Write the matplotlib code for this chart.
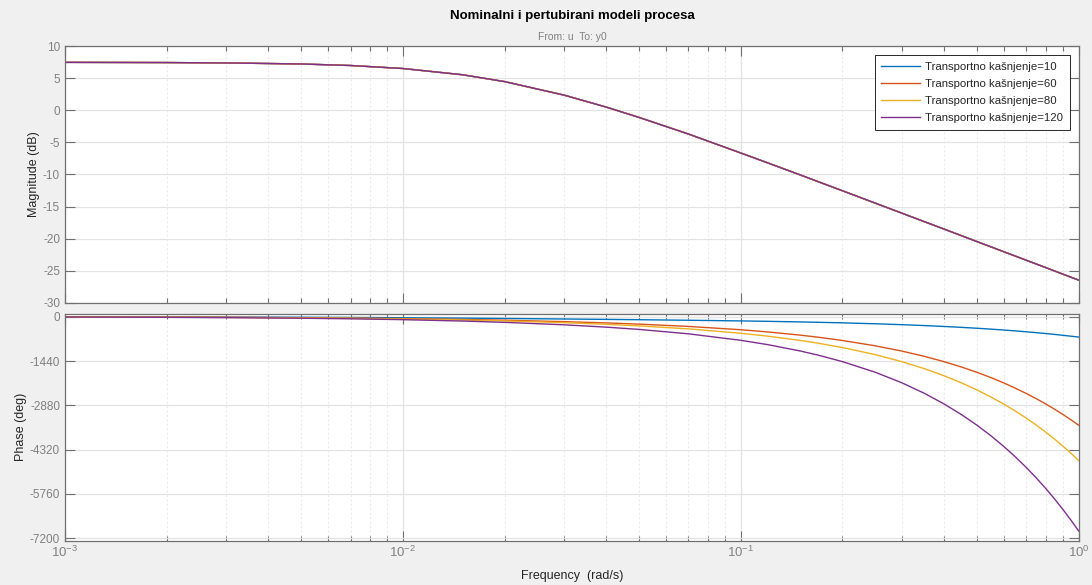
import matplotlib
matplotlib.use("Agg")
import matplotlib.pyplot as plt
from matplotlib.ticker import LogLocator, FixedLocator, NullFormatter

plt.rcParams['font.family'] = ['Liberation Sans', 'DejaVu Sans']
plt.rcParams['axes.unicode_minus'] = False
plt.rcParams['mathtext.fontset'] = 'custom'
plt.rcParams['mathtext.rm'] = 'Liberation Sans'
plt.rcParams['mathtext.default'] = 'regular'

# ---- data ----
freq = [0.001, 0.002, 0.003, 0.005, 0.007, 0.01, 0.015, 0.02, 0.03, 0.04, 0.05,
        0.07, 0.1, 0.12, 0.15, 0.17, 0.2, 0.25, 0.3, 0.35, 0.4, 0.45, 0.5, 0.55,
        0.6, 0.65, 0.7, 0.75, 0.8, 0.85, 0.9, 0.95, 1.0]

magnitude_db = [7.49, 7.46, 7.40, 7.24, 7.00, 6.53, 5.56, 4.49, 2.38, 0.51, -1.10,
                -3.69, -6.65, -8.18, -10.07, -11.15, -12.54, -14.47, -16.04, -17.38,
                -18.53, -19.55, -20.47, -21.29, -22.05, -22.74, -23.38, -23.98, -24.54,
                -25.07, -25.57, -26.04, -26.48]

phase_d10 = [-3.4, -6.9, -10.3, -16.9, -23.3, -32.3, -45.5, -56.5, -73.5, -86.4, -96.8,
             -114.2, -136.0, -149.3, -168.3, -180.7, -198.9, -228.7, -258.1, -287.3,
             -316.3, -345.3, -374.2, -403.0, -431.9, -460.7, -489.4, -518.2, -547.0,
             -575.7, -604.4, -633.1, -661.8]
phase_d60 = [-6.3, -12.6, -18.8, -31.2, -43.4, -60.9, -88.4, -113.8, -159.4, -200.9, -240.1,
             -314.7, -422.5, -493.1, -598.1, -667.7, -771.8, -944.8, -1117.5, -1289.9,
             -1462.2, -1634.5, -1806.6, -1978.6, -2150.7, -2322.7, -2494.8, -2666.8,
             -2838.7, -3010.7, -3182.6, -3354.6, -3526.6]
phase_d80 = [-7.4, -14.9, -22.3, -37.0, -51.4, -72.4, -105.6, -136.7, -193.8, -246.8, -297.4,
             -394.9, -537.1, -630.6, -770.0, -862.5, -1001.0, -1231.3, -1461.3, -1691.0,
             -1920.6, -2150.1, -2379.6, -2609.0, -2838.3, -3067.6, -3297.0, -3526.2,
             -3755.6, -3984.8, -4214.0, -4443.3, -4672.6]
phase_d120 = [-9.7, -19.5, -29.2, -48.4, -67.4, -95.3, -140.0, -182.5, -262.6, -338.4, -412.0,
              -555.3, -766.2, -905.6, -1113.7, -1252.1, -1459.4, -1804.3, -2148.8, -2493.1,
              -2837.3, -3181.4, -3525.4, -3869.4, -4213.4, -4557.3, -4901.2, -5245.1,
              -5589.0, -5932.8, -6276.7, -6620.5, -6964.4]

series_labels = ['Transportno kašnjenje=10', 'Transportno kašnjenje=60',
                 'Transportno kašnjenje=80', 'Transportno kašnjenje=120']
colors = ['#0072BD', '#D95319', '#EDB120', '#7E2F8E']
phases = [phase_d10, phase_d60, phase_d80, phase_d120]

mag_ticks = [-30, -25, -20, -15, -10, -5, 0, 5, 10]
phase_ticks = [-7200, -5760, -4320, -2880, -1440, 0]
x_ticks = [0.001, 0.01, 0.1, 1.0]
x_ticklabels = ['$10^{-3}$', '$10^{-2}$', '$10^{-1}$', '$10^{0}$']

# ---- figure ----
fig = plt.figure(figsize=(10.92, 5.85), dpi=100, facecolor='#f0f0f0')
ax1 = fig.add_axes([0.0595, 0.4826, 0.9283, 0.4383])
ax2 = fig.add_axes([0.0595, 0.0757, 0.9283, 0.3875])

spine_col = '#707070'
tick_col = '#808080'
grid_col = '#e3e3e3'
minor_grid_col = '#ebebeb'

for ax in (ax1, ax2):
    ax.set_facecolor('white')
    ax.set_xscale('log')
    ax.set_xlim(0.001, 1.0)
    for s in ax.spines.values():
        s.set_color(spine_col)
        s.set_linewidth(0.9)
    ax.xaxis.set_major_locator(FixedLocator(x_ticks))
    ax.xaxis.set_minor_locator(LogLocator(base=10, subs=range(2, 10)))
    ax.xaxis.set_minor_formatter(NullFormatter())
    ax.tick_params(which='major', direction='in', length=7, width=0.8, color=spine_col,
                   top=True, right=True, labelsize=8.5, labelcolor=tick_col)
    ax.tick_params(which='minor', direction='in', length=3.5, width=0.8, color=spine_col,
                   top=True, right=True)
    ax.grid(True, which='major', color=grid_col, linewidth=0.9, linestyle='-')
    ax.grid(True, which='minor', axis='x', color=minor_grid_col, linewidth=0.8,
            linestyle=(0, (2, 2)))
    ax.set_axisbelow(True)

for lab, col in zip(series_labels, colors):
    ax1.plot(freq, magnitude_db, color=col, linewidth=1.0, label=lab)
for ph, col in zip(phases, colors):
    ax2.plot(freq, ph, color=col, linewidth=1.0)

ax1.set_ylim(-30, 10)
ax1.set_yticks(mag_ticks)
ax1.set_yticklabels([str(t) for t in mag_ticks])
ax1.tick_params(axis='x', which='both', labelbottom=False)
ax1.set_ylabel('Magnitude (dB)', fontsize=9, color='#262626', labelpad=2)

ax2.set_ylim(-7280, 88)
ax2.set_yticks(phase_ticks)
ax2.set_yticklabels([str(t) for t in phase_ticks])
ax2.set_xticks(x_ticks)
ax2.set_xticklabels(x_ticklabels)
ax2.tick_params(axis='x', which='major', pad=3, labelsize=9.5)
ax2.set_ylabel('Phase (deg)', fontsize=9, color='#262626', labelpad=2)

fig.text(0.524, 0.0155, 'Frequency  (rad/s)', ha='center', va='center', fontsize=9, color='#262626')
fig.text(0.524, 0.973, 'Nominalni i pertubirani modeli procesa', ha='center', va='center',
         fontsize=9.5, fontweight='bold', color='black')
fig.text(0.524, 0.936, 'From: u  To: y0', ha='center', va='center', fontsize=7.5, color=tick_col)

leg = ax1.legend(loc='upper right', fontsize=8.2, frameon=True, fancybox=False,
                 edgecolor='#262626', framealpha=1, handlelength=3.4, borderpad=0.6,
                 labelspacing=0.62, handletextpad=0.4, borderaxespad=0.8)
leg.get_frame().set_linewidth(0.7)
for t in leg.get_texts():
    t.set_color('#262626')

fig.savefig('out.png', dpi=100, facecolor=fig.get_facecolor())
